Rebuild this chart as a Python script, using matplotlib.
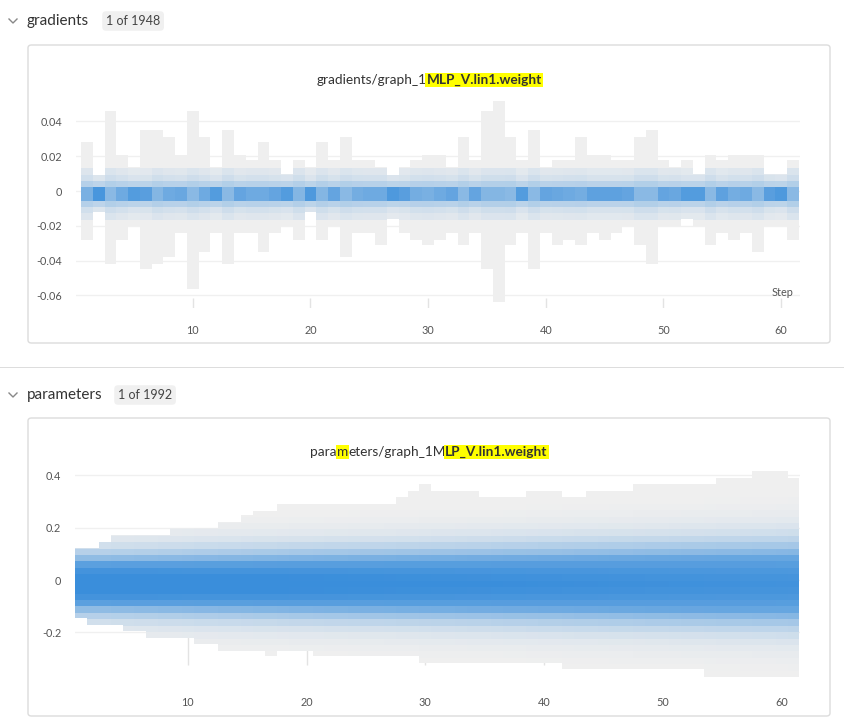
import numpy as np
import matplotlib
matplotlib.use("Agg")
import matplotlib.pyplot as plt
from matplotlib.patches import FancyBboxPatch, Rectangle
from matplotlib.lines import Line2D
from matplotlib.colors import to_rgb

plt.rcParams["font.family"] = ["Lato", "DejaVu Sans"]

W, H = 844, 727
STEPS = list(range(1, 62))

# gradients histogram: per-step extent and core darkness
GRAD_TOP = [0.028, 0.0095, 0.046, 0.021, 0.014, 0.035, 0.035, 0.031, 0.021, 0.046,
            0.031, 0.014, 0.035, 0.021, 0.018, 0.028, 0.018, 0.010, 0.018, 0.014,
            0.028, 0.018, 0.031, 0.018, 0.018, 0.014, 0.0095, 0.014, 0.018, 0.021,
            0.021, 0.014, 0.031, 0.018, 0.046, 0.052, 0.031, 0.018, 0.035, 0.014,
            0.018, 0.018, 0.031, 0.021, 0.021, 0.018, 0.018, 0.031, 0.035, 0.018,
            0.014, 0.018, 0.010, 0.021, 0.018, 0.021, 0.021, 0.021, 0.010, 0.010, 0.018]
GRAD_BOT = [-0.028, -0.012, -0.042, -0.028, -0.020, -0.045, -0.042, -0.038, -0.024, -0.056,
            -0.035, -0.024, -0.042, -0.024, -0.024, -0.035, -0.024, -0.020, -0.028, -0.012,
            -0.028, -0.020, -0.038, -0.024, -0.024, -0.031, -0.016, -0.024, -0.028, -0.031,
            -0.028, -0.024, -0.031, -0.024, -0.045, -0.064, -0.031, -0.024, -0.045, -0.024,
            -0.031, -0.028, -0.031, -0.024, -0.028, -0.024, -0.020, -0.031, -0.042, -0.020,
            -0.020, -0.016, -0.020, -0.031, -0.024, -0.028, -0.024, -0.035, -0.020, -0.020, -0.028]
GRAD_CORE = [0.5, 0.95, 0.35, 0.6, 0.85, 0.8, 0.4, 0.6, 0.65, 0.35,
             0.6, 0.85, 0.35, 0.7, 0.6, 0.6, 0.7, 0.85, 0.4, 0.9,
             0.4, 0.7, 0.35, 0.55, 0.6, 0.6, 0.9, 0.8, 0.55, 0.5,
             0.6, 0.7, 0.35, 0.7, 0.4, 0.4, 0.35, 0.85, 0.35, 0.7,
             0.65, 0.6, 0.55, 0.75, 0.75, 0.75, 0.7, 0.35, 0.35, 0.7,
             0.65, 0.85, 0.85, 0.35, 0.75, 0.55, 0.6, 0.35, 0.8, 0.9, 0.35]

# parameters histogram: per-step extent and spread of the blue mass
PARAM_TOP = [0.122, 0.122, 0.147, 0.172, 0.172, 0.172, 0.172, 0.172, 0.197, 0.197,
             0.197, 0.197, 0.222, 0.222, 0.247, 0.265, 0.265, 0.29, 0.29, 0.29,
             0.29, 0.29, 0.29, 0.29, 0.29, 0.29, 0.29, 0.317, 0.34, 0.365,
             0.34, 0.34, 0.34, 0.34, 0.318, 0.318, 0.318, 0.318, 0.34, 0.34,
             0.34, 0.318, 0.318, 0.34, 0.34, 0.34, 0.34, 0.365, 0.365, 0.365,
             0.365, 0.365, 0.365, 0.365, 0.39, 0.39, 0.39, 0.415, 0.415, 0.415, 0.39]
PARAM_BOT = [-0.145, -0.171, -0.171, -0.171, -0.195, -0.195, -0.22, -0.22, -0.22, -0.22,
             -0.245, -0.245, -0.27, -0.27, -0.27, -0.27, -0.29, -0.27, -0.27, -0.27,
             -0.29, -0.29, -0.29, -0.29, -0.29, -0.29, -0.29, -0.29, -0.29, -0.317,
             -0.317, -0.317, -0.317, -0.317, -0.317, -0.317, -0.317, -0.317, -0.317, -0.317,
             -0.317, -0.34, -0.34, -0.34, -0.34, -0.34, -0.34, -0.34, -0.34, -0.34,
             -0.34, -0.34, -0.34, -0.37, -0.37, -0.37, -0.37, -0.37, -0.37, -0.37, -0.37]
PARAM_SPREAD = [1.0, 1.0, 1.0, 1.01, 1.01, 1.02, 1.02, 1.03, 1.03, 1.04,
                1.05, 1.05, 1.06, 1.06, 1.07, 1.08, 1.08, 1.09, 1.1, 1.1,
                1.11, 1.12, 1.12, 1.13, 1.14, 1.14, 1.15, 1.16, 1.16, 1.17,
                1.18, 1.18, 1.19, 1.2, 1.2, 1.21, 1.22, 1.22, 1.23, 1.24,
                1.24, 1.25, 1.26, 1.26, 1.27, 1.28, 1.28, 1.29, 1.3, 1.3,
                1.31, 1.32, 1.32, 1.33, 1.34, 1.34, 1.35, 1.36, 1.36, 1.37, 1.38]
PARAM_PROFILE = [1.0, 0.97, 0.9, 0.78, 0.5, 0.3, 0.16, 0.08, 0.04, 0.015, 0.0]
PARAM_CENTER = -0.015
PARAM_BIN = 0.0245

GRAY = np.array(to_rgb("#efefef"))
BLUE = np.array(to_rgb("#3a8edb"))


def mix(t):
    t = float(np.clip(t, 0, 1))
    return tuple(GRAY * (1 - t) + BLUE * t)


def fx(px):
    return px / W


def fy(py):
    return 1 - py / H


fig = plt.figure(figsize=(W / 100, H / 100), dpi=100)
fig.patch.set_facecolor("white")

# page chrome
fig.add_artist(Rectangle((0, fy(368)), 1, 1.5 / H, transform=fig.transFigure,
                         color="#dddddd", lw=0, zorder=-5))
for (top, bot) in [(45, 343), (418, 716)]:
    fig.add_artist(FancyBboxPatch((fx(28), fy(bot)), fx(802), (bot - top) / H,
                                  boxstyle="round,pad=0,rounding_size=0.004",
                                  transform=fig.transFigure, fc="white",
                                  ec="#dcdcdc", lw=1, zorder=-5))
for (y, name, badge, bx) in [(21, "gradients", "1 of 1948", 100), (395, "parameters", "1 of 1992", 112)]:
    fig.add_artist(Line2D([fx(9), fx(13), fx(17)], [fy(y - 2), fy(y + 2), fy(y - 2)],
                          transform=fig.transFigure, color="#888", lw=1))
    fig.text(fx(27), fy(y), name, fontsize=11, color="#333", va="center")
    fig.text(fx(bx + 6), fy(y), badge, fontsize=9, color="#444", va="center",
             bbox=dict(boxstyle="round,pad=0.3", fc="#f0f0f0", ec="none"))

renderer = fig.canvas.get_renderer()


def title(pieces, cx, py):
    arts = []
    for txt, bold, hl in pieces:
        t = fig.text(0, fy(py), txt, fontsize=9.8, color="#333",
                     fontweight="bold" if bold else "normal", va="center",
                     bbox=dict(boxstyle="square,pad=0.08", fc="#ffff00", ec="none") if hl else None)
        arts.append(t)
    widths = [t.get_window_extent(renderer).width for t in arts]
    x = cx - sum(widths) / 2
    for t, w in zip(arts, widths):
        t.set_x(fx(x))
        x += w


title([("gradients/graph_1", False, False), ("MLP_V.lin1.weight", True, True)], 429, 80)
title([("para", False, False), ("m", False, True), ("eters/graph_1M", False, False),
       ("LP_V.lin1.weight", True, True)], 429, 452)


def style(ax):
    for s in ax.spines.values():
        s.set_visible(False)
    ax.grid(axis="y", color="#f0f0f0", lw=1)
    ax.set_axisbelow(True)
    ax.tick_params(axis="y", length=0, labelsize=7.8, labelcolor="#555", pad=10)
    ax.tick_params(axis="x", length=0, labelsize=7.8, labelcolor="#555")
    ax.set_xticks([10, 20, 30, 40, 50, 60])
    ax.set_facecolor("none")
    ax.set_zorder(5)


# gradients panel
ax1 = fig.add_axes([fx(76), fy(308), fx(724), (308 - 98) / H])
ax1.set_xlim(0.075, 61.6)
ax1.set_ylim(-0.0672, 0.0535)
for i, s in enumerate(STEPS):
    ax1.bar(s, GRAD_TOP[i] - GRAD_BOT[i], bottom=GRAD_BOT[i], width=1, color=mix(0), lw=0)
    c = GRAD_CORE[i]
    rows = [(-0.0165, 0.013, 0.05 + 0.1 * (1 - c)),
            (-0.0128, 0.0094, 0.1 + 0.13 * (1 - c)),
            (-0.0092, 0.0059, 0.27 + 0.1 * (1 - c)),
            (-0.0057, 0.0025, 0.35 + 0.6 * c)]
    for lo, hi, t in rows:
        lo = max(lo, GRAD_BOT[i]); hi = min(hi, GRAD_TOP[i])
        ax1.bar(s, hi - lo, bottom=lo, width=1, color=mix(t), lw=0)
style(ax1)
ax1.tick_params(axis="x", pad=12)
ax1.vlines(ax1.get_xticks(), 0.0, 0.05, transform=ax1.get_xaxis_transform(),
           color="#e3e3e3", lw=1)
ax1.set_yticks([-0.06, -0.04, -0.02, 0, 0.02, 0.04])
ax1.set_yticklabels(["-0.06", "-0.04", "-0.02", "0", "0.02", "0.04"])
fig.text(fx(783), fy(293), "Step", fontsize=7.8, color="#555", ha="center", va="center",
         zorder=10)

# parameters panel
ax2 = fig.add_axes([fx(75), fy(678), fx(725), (678 - 465) / H])
ax2.set_xlim(0.5, 61.55)
ax2.set_ylim(-0.374, 0.439)
for i, s in enumerate(STEPS):
    ax2.bar(s, PARAM_TOP[i] - PARAM_BOT[i], bottom=PARAM_BOT[i], width=1, color=mix(0), lw=0)
    for k in range(-16, 17):
        lo = PARAM_CENTER + (k - 0.5) * PARAM_BIN
        hi = lo + PARAM_BIN
        lo = max(lo, PARAM_BOT[i]); hi = min(hi, PARAM_TOP[i])
        if hi <= lo:
            continue
        d = abs(k) / PARAM_SPREAD[i]
        j = int(d)
        if j >= len(PARAM_PROFILE) - 1:
            continue
        f = d - j
        w = PARAM_PROFILE[j] * (1 - f) + PARAM_PROFILE[j + 1] * f
        if w <= 0:
            continue
        ax2.bar(s, hi - lo, bottom=lo, width=1, color=mix(w * (1.05 - 0.25 * (PARAM_SPREAD[i] - 1))), lw=0)
style(ax2)
ax2.tick_params(axis="x", pad=14)
ax2.vlines(ax2.get_xticks(), 0.06, 0.225, transform=ax2.get_xaxis_transform(),
           color="#e3e3e3", lw=1, zorder=0)
ax2.set_yticks([-0.2, 0, 0.2, 0.4])
ax2.set_yticklabels(["-0.2", "0", "0.2", "0.4"])

fig.savefig("out.png", dpi=100)
